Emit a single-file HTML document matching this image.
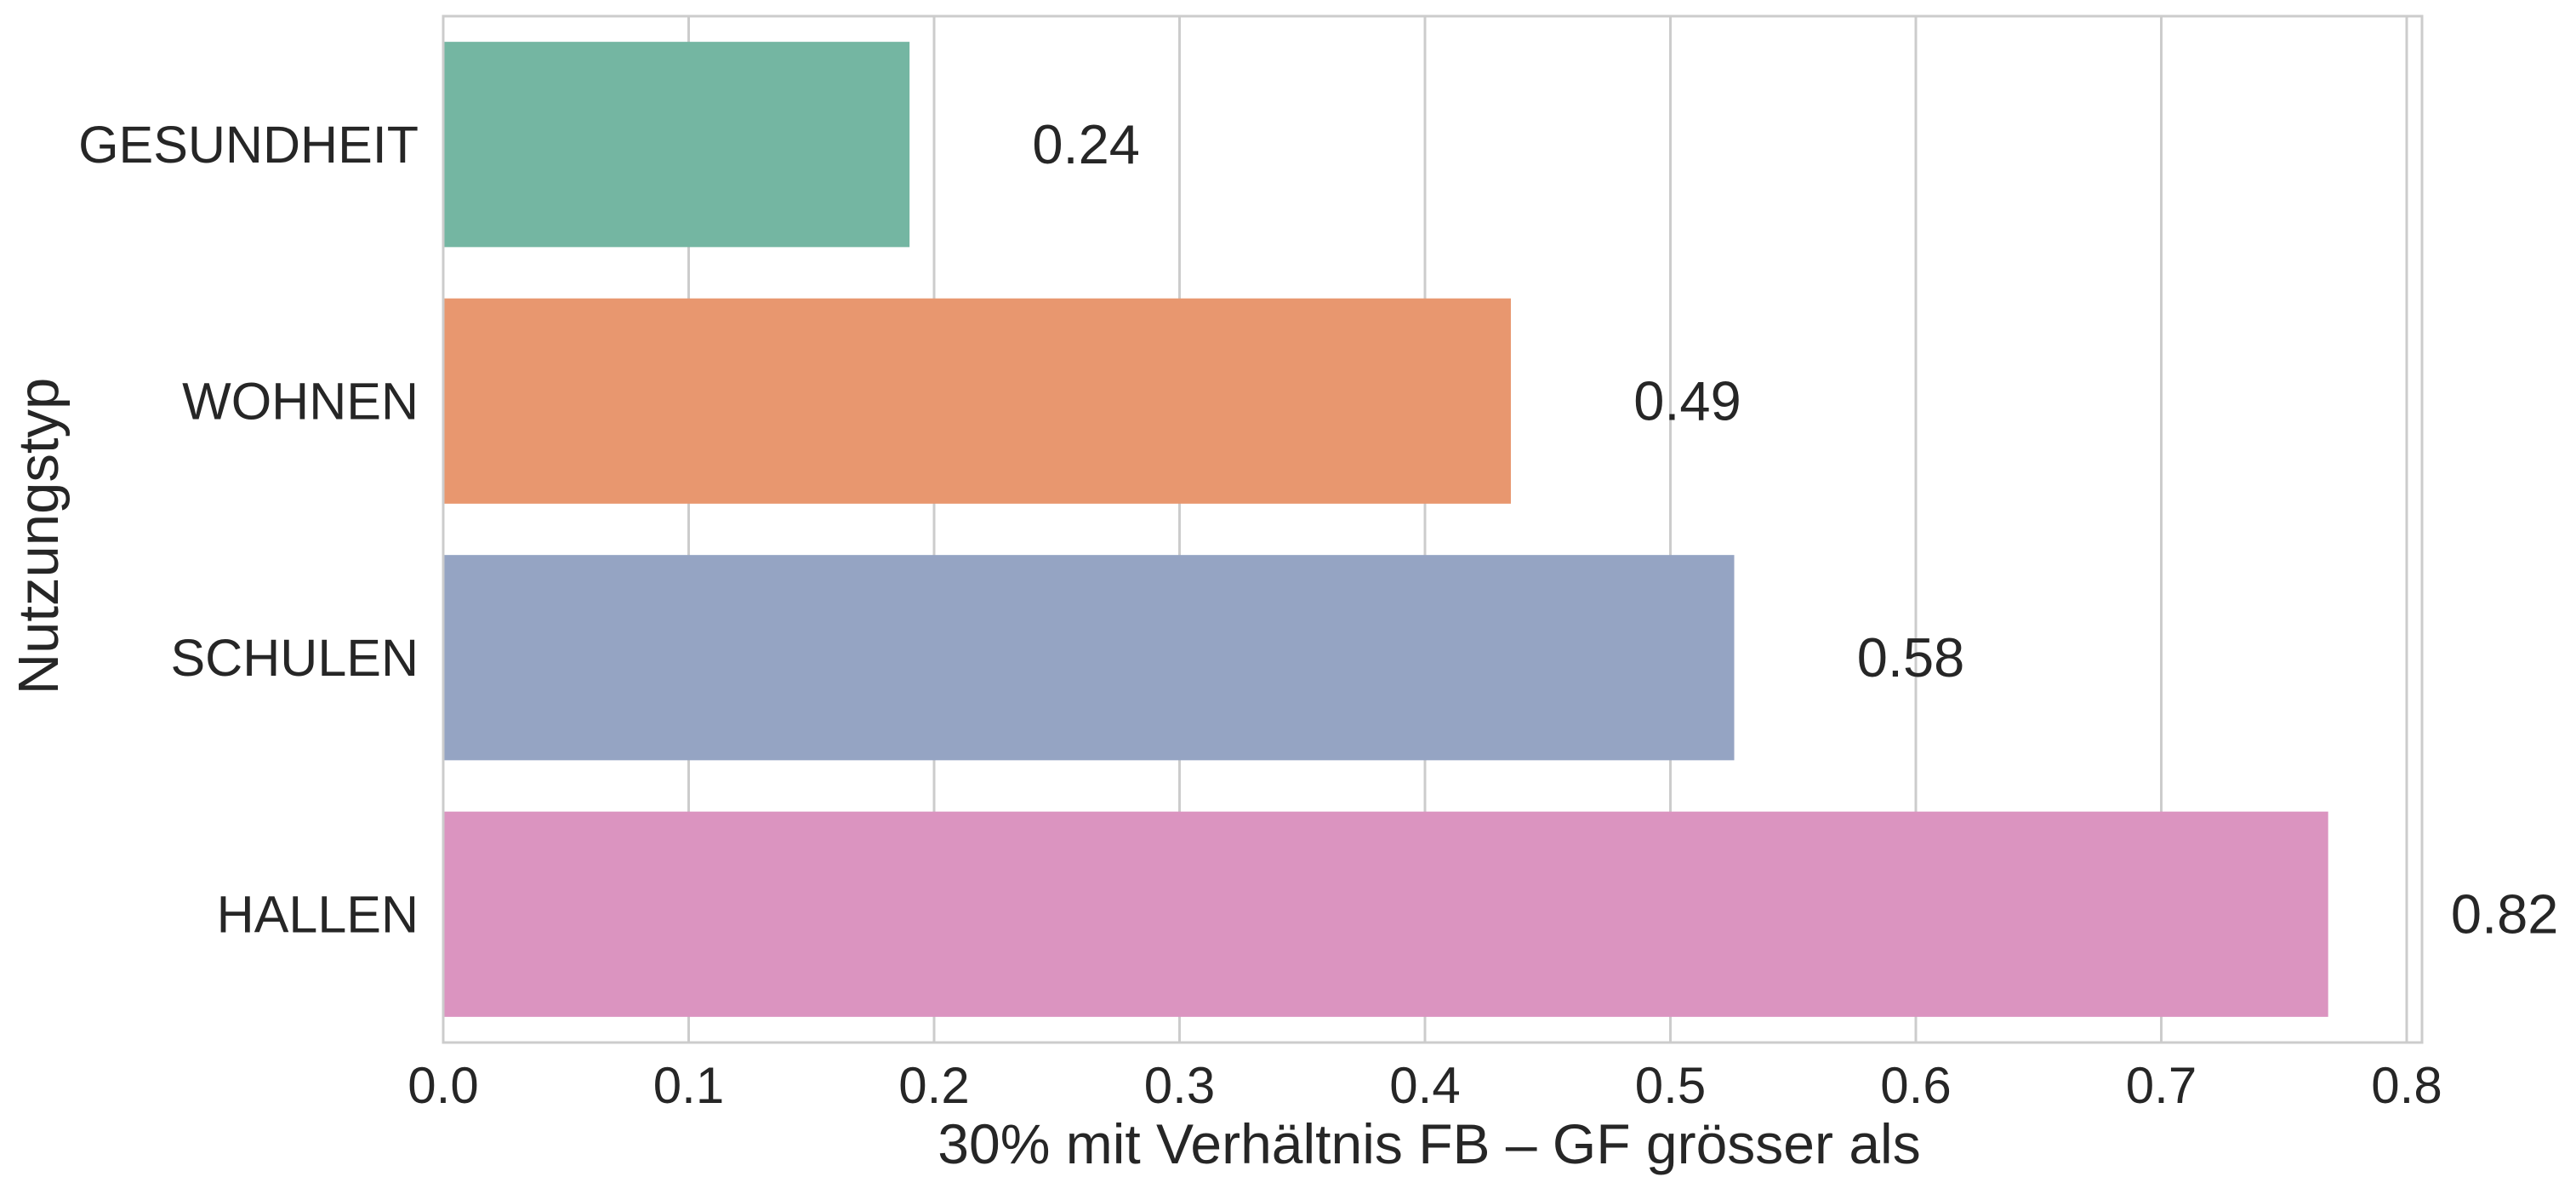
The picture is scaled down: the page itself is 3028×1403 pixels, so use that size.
<!DOCTYPE html>
<html><head><meta charset="utf-8"><style>
html,body{margin:0;padding:0;background:#fff;}
svg{display:block;font-family:"Liberation Sans",Arial,sans-serif;}
</style></head><body>
<svg id="chart" width="3028" height="1403" viewBox="0 0 3028 1403">
<g id="grid"></g>
<g id="bars"></g>
<rect x="521" y="19" width="2326" height="1206" fill="none" stroke="#cccccc" stroke-width="3"/>
<g id="labels"></g>
<text x="1680" y="1367" font-size="66" fill="#262626" text-anchor="middle">30% mit Verhältnis FB – GF grösser als</text>
<text transform="translate(68,630) rotate(-90)" font-size="67" fill="#262626" text-anchor="middle">Nutzungstyp</text>
</svg>
<script>
const categories = ["GESUNDHEIT","WOHNEN","SCHULEN","HALLEN"];
const barValues = [0.19, 0.435, 0.526, 0.768];
const printedLabels = ["0.24","0.49","0.58","0.82"];
const labelPositions = [0.24, 0.485, 0.576, 0.818];
const colors = ["#74b6a2","#e8976f","#95a4c3","#db94c0"];
const xTicks = [0,0.1,0.2,0.3,0.4,0.5,0.6,0.7,0.8];
const xTickLabels = ["0.0","0.1","0.2","0.3","0.4","0.5","0.6","0.7","0.8"];

const NS = "http://www.w3.org/2000/svg";
const X0 = 521, XPER = 2885, TOP = 19, BOTTOM = 1225;
const band = (BOTTOM - TOP) / categories.length;
const xs = v => X0 + v * XPER;
const yc = i => TOP + band * (i + 0.5);
function mk(tag, attrs, parent) {
  const e = document.createElementNS(NS, tag);
  for (const k in attrs) e.setAttribute(k, attrs[k]);
  parent.appendChild(e);
  return e;
}
const grid = document.getElementById('grid');
const bars = document.getElementById('bars');
const labels = document.getElementById('labels');
xTicks.forEach((t, i) => {
  const l = mk('line', {x1: xs(t), x2: xs(t), y1: TOP, y2: BOTTOM, stroke: '#cccccc', 'stroke-width': 3}, grid);
  
  
  const tx = mk('text', {x: xs(t), y: 1296, 'font-size': 60, fill: '#262626', 'text-anchor': 'middle'}, labels);
  tx.textContent = xTickLabels[i];
  
  
});
categories.forEach((c, i) => {
  const h = band * 0.8;
  const r = mk('rect', {x: xs(0), y: yc(i) - h / 2, width: xs(barValues[i]) - xs(0), height: h, fill: colors[i]}, bars);
  
  
  const cl = mk('text', {x: 492, y: yc(i) + 21, 'font-size': 61, fill: '#262626', 'text-anchor': 'end'}, labels);
  cl.textContent = c;
  
  
  const vl = mk('text', {x: xs(labelPositions[i]), y: yc(i) + 22, 'font-size': 65, fill: '#262626', 'text-anchor': 'start'}, labels);
  vl.textContent = printedLabels[i];
  
  
});
</script>
</body></html>
